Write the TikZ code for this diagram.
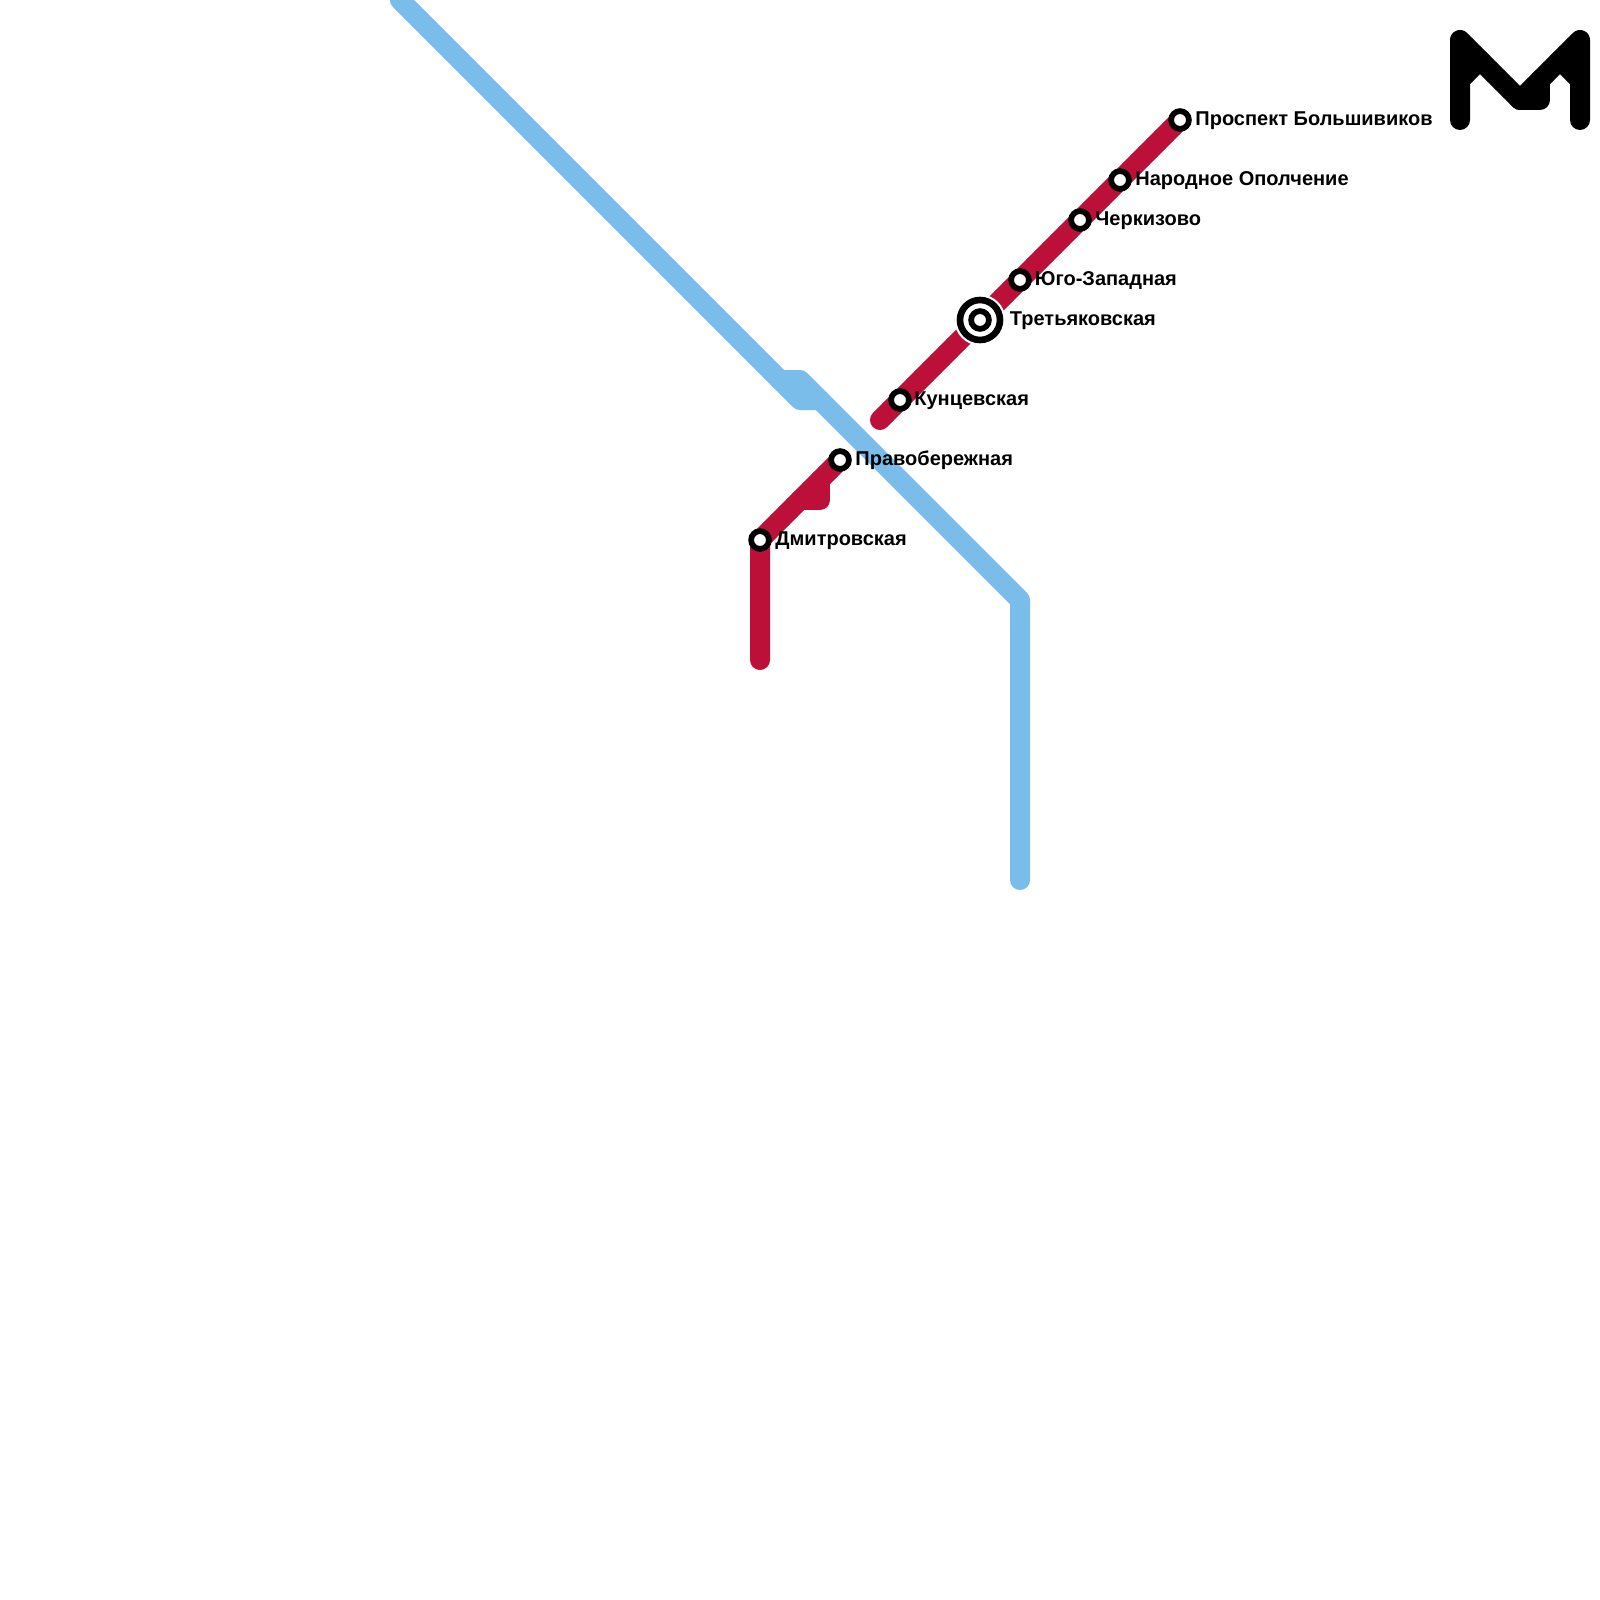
\documentclass[tikz,border=0pt]{standalone}
\usepackage{fontspec}
\setmainfont{Liberation Sans}
\definecolor{redline}{HTML}{BD1038}
\definecolor{blueline}{HTML}{7ABDEA}
\tikzset{
  x=0.5pt,y=-0.5pt,
  metroline/.style={line width=10pt,line cap=round,line join=round},
  stationdot/.style={circle,draw=black,fill=white,line width=2.85pt,minimum size=8.9pt,inner sep=0pt,outer sep=0pt},
  hubhalo/.style={circle,fill=white,minimum size=25.5pt,inner sep=0pt,outer sep=0pt},
  hubdot/.style={circle,draw=black,fill=white,line width=3.3pt,minimum size=20pt,inner sep=0pt,outer sep=0pt},
  stationlabel/.style={anchor=base west,inner sep=0pt,font=\bfseries\fontsize{10}{12}\selectfont,text=black}
}
\begin{document}
\begin{tikzpicture}
\useasboundingbox (0,0) rectangle (1600,1600);
\fill[white] (0,0) rectangle (1600,1600);
% blue line
\coordinate (bA) at (400,0);
\coordinate (bB) at (800,400);
\coordinate (bC) at (820,400);
\coordinate (bD) at (780,380);
\coordinate (bE) at (800,380);
\coordinate (bF) at (1020,600);
\coordinate (bG) at (1020,880);
\draw[metroline,blueline] (bA) -- (bB) -- (bC);
\draw[metroline,blueline] (bD) -- (bE) -- (bF) -- (bG);
% red line
\coordinate (rEnd) at (760,660);
\coordinate (rB1) at (800,500);
\coordinate (rB2) at (820,500);
\coordinate (rB3) at (820,480);
\coordinate (rStart) at (880,420);
\coordinate (sDmi) at (760,540);
\coordinate (sPra) at (840,460);
\coordinate (sPro) at (1180,120);
\draw[metroline,redline] (rEnd) -- (sDmi) -- (sPra);
\draw[metroline,redline] (rB1) -- (rB2) -- (rB3);
\draw[metroline,redline] (rStart) -- (sPro);
% stations
\node[stationdot,name=dmi] at (sDmi) {};
\node[stationdot,name=pra] at (sPra) {};
\node[stationdot,name=kun] at (900,400) {};
\node[hubhalo,name=trehalo] at (980,320) {};
\node[hubdot,name=treouter] at (980,320) {};
\node[stationdot,name=treinner] at (980,320) {};
\node[stationdot,name=yug] at (1020,280) {};
\node[stationdot,name=che] at (1080,220) {};
\node[stationdot,name=nar] at (1120,180) {};
\node[stationdot,name=pro] at (sPro) {};
% labels
\node[stationlabel,name=ldmi] at (775,545) {Дмитровская};
\node[stationlabel,name=lpra] at (855,465) {Правобережная};
\node[stationlabel,name=lkun] at (914,405) {Кунцевская};
\node[stationlabel,name=ltre] at (1009.5,325) {Третьяковская};
\node[stationlabel,name=lyug] at (1034.5,285) {Юго-Западная};
\node[stationlabel,name=lche] at (1095,225) {Черкизово};
\node[stationlabel,name=lnar] at (1135,185) {Народное Ополчение};
\node[stationlabel,name=lpro] at (1195,125.5) {Проспект Большивиков};
% logo
\coordinate (m1) at (1460,120);
\coordinate (m2) at (1460,40);
\coordinate (m3) at (1520,100);
\coordinate (m4) at (1540,100);
\coordinate (m5) at (1540,80);
\coordinate (m6) at (1580,40);
\coordinate (m7) at (1580,120);
\coordinate (n1) at (1460,80);
\coordinate (n2) at (1480,60);
\coordinate (n3) at (1560,60);
\coordinate (n4) at (1580,80);
\draw[metroline,black] (m1) -- (m2) -- (m3) -- (m6) -- (m7);
\draw[metroline,black] (m3) -- (m4) -- (m5);
\draw[metroline,black] (n1) -- (n2);
\draw[metroline,black] (n3) -- (n4);
\end{tikzpicture}
\end{document}
